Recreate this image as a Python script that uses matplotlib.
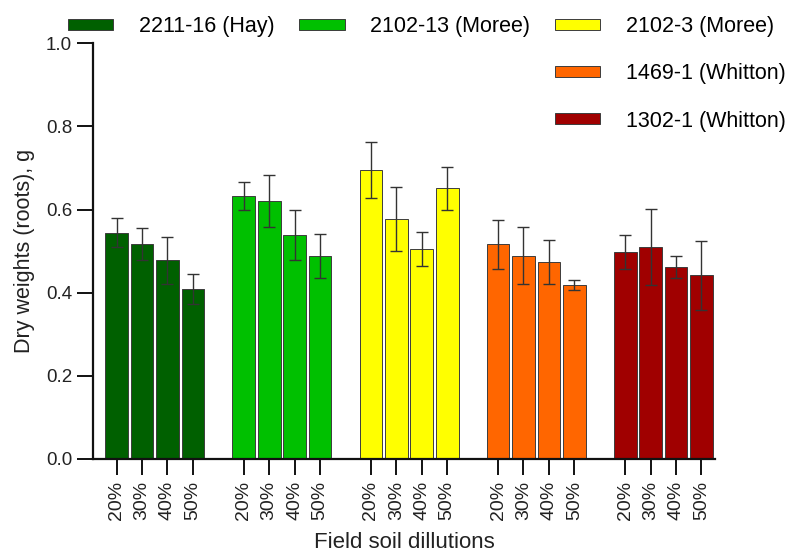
import numpy as np
import matplotlib
matplotlib.use("Agg")
import matplotlib.pyplot as plt
from matplotlib.patches import Rectangle

plt.rcParams['font.family'] = ['Liberation Sans', 'DejaVu Sans']

dilutions = ["20%", "30%", "40%", "50%"]
isolates = ["2211-16 (Hay)", "2102-13 (Moree)", "2102-3 (Moree)",
            "1469-1 (Whitton)", "1302-1 (Whitton)"]
colors = ["#006000", "#00c000", "#ffff00", "#ff6600", "#a00000"]

# mean root dry weight (g) and error per dilution
hay_2211 = [0.544, 0.517, 0.478, 0.409]
hay_2211_err = [0.035, 0.038, 0.056, 0.037]
moree_2102_13 = [0.632, 0.620, 0.539, 0.488]
moree_2102_13_err = [0.033, 0.062, 0.060, 0.052]
moree_2102_3 = [0.695, 0.577, 0.506, 0.651]
moree_2102_3_err = [0.067, 0.077, 0.041, 0.051]
whitton_1469 = [0.516, 0.489, 0.474, 0.418]
whitton_1469_err = [0.059, 0.069, 0.052, 0.012]
whitton_1302 = [0.498, 0.510, 0.462, 0.442]
whitton_1302_err = [0.041, 0.091, 0.026, 0.083]

means = [hay_2211, moree_2102_13, moree_2102_3, whitton_1469, whitton_1302]
errs = [hay_2211_err, moree_2102_13_err, moree_2102_3_err,
        whitton_1469_err, whitton_1302_err]

fig = plt.figure(figsize=(7.9, 5.54), dpi=100)
ax = fig.add_axes([0.1177, 0.1715, 0.7873, 0.7505])

handles = []
xticks = []
for g, (m, e, c, name) in enumerate(zip(means, errs, colors, isolates)):
    x = np.arange(4) + g * 5
    xticks.extend(x)
    bars = ax.bar(x, m, width=0.89, color=c, edgecolor="#3c3c3c",
                  linewidth=0.7, label=name, zorder=2)
    ax.errorbar(x, m, yerr=e, fmt="none", ecolor="#333333", elinewidth=1.0,
                capsize=4, capthick=1.0, zorder=3)
    handles.append(bars.patches[0])

ax.set_xlim(-0.93, 23.53)
ax.set_ylim(0, 1.0)
ax.set_yticks([0.0, 0.2, 0.4, 0.6, 0.8, 1.0])
ax.set_yticklabels(["0.0", "0.2", "0.4", "0.6", "0.8", "1.0"])
ax.set_xticks(xticks)
ax.set_xticklabels(dilutions * 5, rotation=90)

for side in ["top", "right"]:
    ax.spines[side].set_visible(False)
for side in ["left", "bottom"]:
    ax.spines[side].set_linewidth(1.6)
    ax.spines[side].set_color("#111111")

ax.tick_params(axis="y", length=11.5, width=1.4, pad=3.6, labelsize=13.5,
               color="#111111", labelcolor="#222222")
ax.tick_params(axis="x", length=11.5, width=1.4, pad=4.5, labelsize=14,
               color="#111111", labelcolor="#222222")

ax.set_ylabel("Dry weights (roots), g", fontsize=15.5, color="#222222",
              labelpad=8)
ax.set_xlabel("Field soil dillutions", fontsize=16, color="#222222",
              labelpad=8)

# legend: first three isolates across the top, the rest stacked under the third
blank = Rectangle((0, 0), 1, 1, facecolor="none", edgecolor="none")
leg_handles = [handles[0], blank, blank,
               handles[1], blank, blank,
               handles[2], handles[3], handles[4]]
leg_labels = [isolates[0], "", "",
              isolates[1], "", "",
              isolates[2], isolates[3], isolates[4]]
fig.legend(leg_handles, leg_labels, ncol=3, loc="upper left",
           bbox_to_anchor=(68 / 790, 1 - 16 / 554), frameon=False,
           fontsize=15.5, handlelength=2.1, handleheight=0.42,
           handletextpad=1.2, columnspacing=1.15, labelspacing=1.22,
           borderpad=0, borderaxespad=0)

fig.savefig("out.png", dpi=100)
